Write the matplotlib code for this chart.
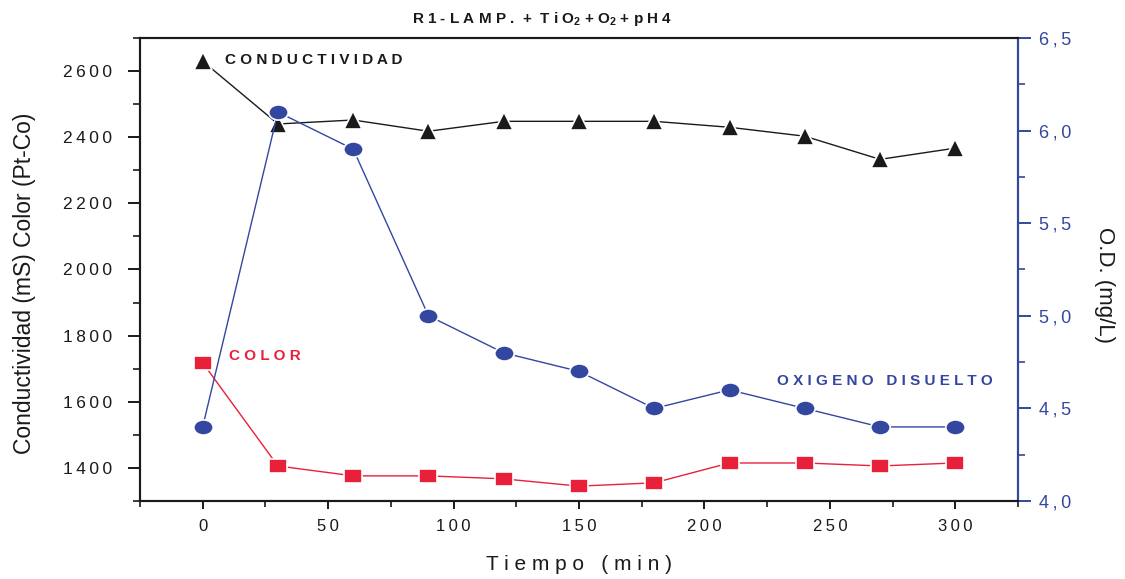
import matplotlib
matplotlib.use("Agg")
import matplotlib.pyplot as plt
from matplotlib.ticker import MultipleLocator, FixedLocator, FuncFormatter
from matplotlib.path import Path
from matplotlib.transforms import Affine2D

plt.rcParams['font.family'] = ['Liberation Sans', 'DejaVu Sans']
plt.rcParams['mathtext.fontset'] = 'custom'
plt.rcParams['mathtext.rm'] = 'Liberation Sans:bold'
plt.rcParams['mathtext.bf'] = 'Liberation Sans:bold'

tiempo = [0, 30, 60, 90, 120, 150, 180, 210, 240, 270, 300]
conductividad = [2630, 2440, 2452, 2418, 2448, 2448, 2448, 2430, 2403, 2333, 2367]
color = [1718, 1406, 1376, 1376, 1367, 1345, 1355, 1415, 1415, 1406, 1415]
oxigeno = [4.40, 6.10, 5.90, 5.00, 4.80, 4.70, 4.50, 4.60, 4.50, 4.40, 4.40]

BLACK = '#1a1a1a'
RED = '#e8203a'
BLUE = '#3347a0'
TS = '\u2009'

def sp(s, sep=TS):
    return sep.join(s)

ellipse = Path.unit_circle().transformed(Affine2D().scale(1.0, 0.78))
rect = Path([(-1, -0.8), (1, -0.8), (1, 0.8), (-1, 0.8), (-1, -0.8)],
            [Path.MOVETO, Path.LINETO, Path.LINETO, Path.LINETO, Path.CLOSEPOLY])

fig = plt.figure(figsize=(11.25, 5.79), dpi=100)
ax = fig.add_axes([0.1244, 0.1347, 0.7805, 0.7997])
ax2 = ax.twinx()

mk = dict(markeredgecolor='white', markeredgewidth=1.2)
ax.plot(tiempo, conductividad, '-', color=BLACK, lw=1.0, marker='^', markersize=13,
        markerfacecolor=BLACK, **mk)
ax.plot(tiempo, color, '-', color=RED, lw=1.0, marker=rect, markersize=13,
        markerfacecolor=RED, **mk)
ax2.plot(tiempo, oxigeno, '-', color=BLUE, lw=1.0, marker=ellipse, markersize=14,
         markerfacecolor=BLUE, **mk)

ax.set_xlim(-25, 325)
ax.set_ylim(1300, 2700)
ax2.set_ylim(4.0, 6.5)

ax.xaxis.set_major_locator(MultipleLocator(50))
ax.xaxis.set_minor_locator(MultipleLocator(25))
ax.yaxis.set_major_locator(FixedLocator([1400, 1600, 1800, 2000, 2200, 2400, 2600]))
ax.yaxis.set_minor_locator(MultipleLocator(100))
ax2.yaxis.set_major_locator(MultipleLocator(0.5))
ax2.yaxis.set_minor_locator(MultipleLocator(0.25))

ax.xaxis.set_major_formatter(FuncFormatter(lambda v, p: sp(f"{v:.0f}")))
ax.yaxis.set_major_formatter(FuncFormatter(lambda v, p: sp(f"{v:.0f}")))
ax2.yaxis.set_major_formatter(FuncFormatter(lambda v, p: sp(f"{v:.1f}".replace('.', ','))))

for a in (ax, ax2):
    for s in a.spines.values():
        s.set_linewidth(1.5)
        s.set_color(BLACK)
ax2.spines['right'].set_color(BLUE)

ax.tick_params(axis='y', which='major', direction='out', length=9, width=1.4,
               labelsize=12.5, colors=BLACK, pad=11)
ax.tick_params(axis='y', which='minor', direction='out', length=5, width=1.2, colors=BLACK)
ax.tick_params(axis='x', which='major', direction='out', length=6, width=1.4,
               labelsize=12, colors=BLACK, pad=7)
ax.tick_params(axis='x', which='minor', direction='out', length=4, width=1.2, colors=BLACK)
ax2.tick_params(axis='y', which='major', direction='out', length=9, width=1.4,
                labelsize=13, colors=BLUE, labelcolor=BLUE, pad=6)
ax2.tick_params(axis='y', which='minor', direction='out', length=5, width=1.2, colors=BLUE)

ax.set_ylabel('Conductividad (mS) Color (Pt-Co)', fontsize=16.5, color=BLACK)
ax.yaxis.set_label_coords(-0.118, 0.471)
ax2.set_ylabel('O.D. (mg/L)', fontsize=16, color=BLACK, rotation=270, va='center')
ax2.yaxis.set_label_coords(1.099, 0.467)
ax.set_xlabel(sp('Tiempo (min)', ' '), fontsize=15, color=BLACK, labelpad=15)
title = sp('R1-LAMP.', ' ') + '  +  ' + sp('TiO', ' ') + r'$_\mathrm{2}$' + ' + ' + 'O' + \
        r'$_\mathrm{2}$' + ' + ' + sp('pH4', ' ')
ax.set_title(title, fontsize=11, fontweight='bold', color=BLACK, pad=11, x=0.458)

ax.text(9, 2633, sp('CONDUCTIVIDAD', ' '), fontsize=11, fontweight='bold', color=BLACK,
        va='center', ha='left')
ax.text(10.5, 1739, sp('COLOR', ' '), fontsize=11, fontweight='bold', color=RED,
        va='center', ha='left')
ax2.text(229, 4.65, sp('OXIGENO', ' ') + '   ' + sp('DISUELTO', ' '), fontsize=11,
         fontweight='bold', color=BLUE, va='center', ha='left')

fig.savefig('out.png', dpi=100)
